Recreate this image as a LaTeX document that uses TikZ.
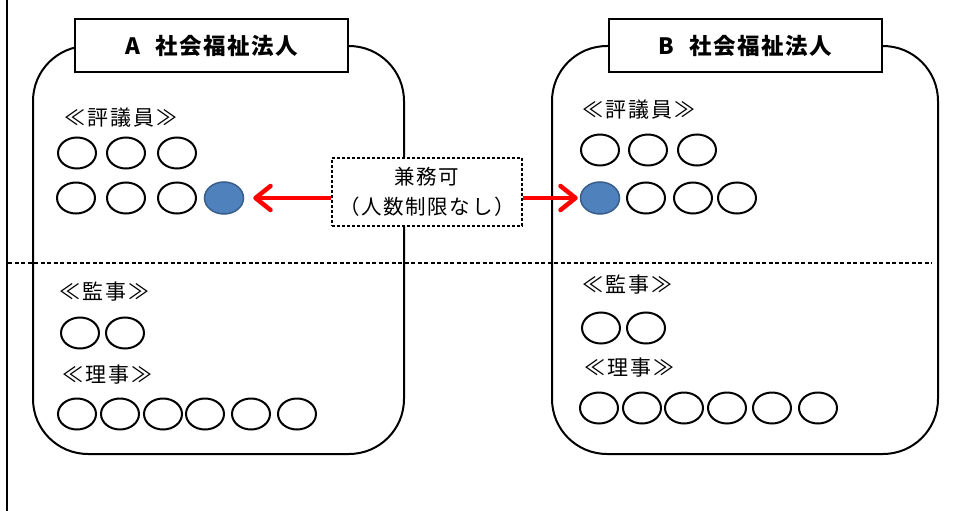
\documentclass[tikz,border=0pt]{standalone}
\usepackage{fontspec}
\setmainfont{Noto Sans CJK JP}
\newfontfamily\jplbl{Noto Sans CJK JP}[LetterSpace=10]
\newfontfamily\jpttl{Noto Sans CJK JP}[LetterSpace=6]
\newfontfamily\jpnote{Noto Sans CJK JP}[LetterSpace=8]
\usetikzlibrary{shapes.geometric,arrows.meta}
\definecolor{blueF}{HTML}{4F81BD}
\definecolor{blueD}{HTML}{385D8A}
\tikzset{
  org/.style={draw=black,line width=2pt,rounded corners=55pt},
  titlebox/.style={draw=black,fill=white,line width=2pt,minimum width=273pt,minimum height=53pt,inner sep=0pt,font=\jpttl\fontsize{22.5}{25}\selectfont\bfseries},
  lbl/.style={anchor=west,inner sep=0pt,font=\jplbl\fontsize{21}{23}\selectfont},
  per/.style={ellipse,draw=black,line width=2pt,minimum width=38pt,minimum height=31pt,inner sep=0pt},
  dual/.style={ellipse,draw=blueD,fill=blueF,line width=1.5pt,minimum width=39pt,minimum height=32pt,inner sep=0pt},
  note/.style={draw=black,dashed,dash pattern=on 3pt off 2pt,line width=1.2pt,fill=white,minimum width=190pt,minimum height=68pt,inner sep=0pt,align=center,font=\jpnote\fontsize{20.5}{30}\selectfont},
  redarrow/.style={draw=red,line width=4.5pt,-{Straight Barb[length=15pt,width=24pt,round]}}
}
\begin{document}
\begin{tikzpicture}[x=1pt,y=-1pt]
\useasboundingbox (0,0) rectangle (956,511);
% left vertical line
\coordinate (vt) at (7,0);
\coordinate (vb) at (7,511);
\draw[line width=2pt] (vt) -- (vb);
% dashed separator
\coordinate (dl) at (8,263);
\coordinate (dr) at (932,263);
% organisations
\draw[org] (33,46) rectangle (404,454);
\draw[org] (552,46) rectangle (938,454);
\draw[line width=1.2pt,dash pattern=on 4pt off 2.5pt] (dl) -- (dr);
\node[titlebox] (ta) at (211.5,45.5) {A\hspace{0.7em}社会福祉法人};
\node[titlebox] (tb) at (745,45.5) {B\hspace{0.7em}社会福祉法人};
% A side
\node[lbl] (ahy) at (64,118) {≪評議員≫};
\node[per] (a11) at (77,153) {};
\node[per] (a12) at (126,153) {};
\node[per] (a13) at (177,153) {};
\node[per] (a21) at (76,198) {};
\node[per] (a22) at (126,198) {};
\node[per] (a23) at (177,198) {};
\node[dual] (a24) at (224,198) {};
\node[lbl] (akj) at (59,292) {≪監事≫};
\node[per] (ak1) at (80,333) {};
\node[per] (ak2) at (125,333) {};
\node[lbl] (arj) at (62,375) {≪理事≫};
\node[per] (ar1) at (77,414) {};
\node[per] (ar2) at (120,414) {};
\node[per] (ar3) at (163,414) {};
\node[per] (ar4) at (205,414) {};
\node[per] (ar5) at (251,414) {};
\node[per] (ar6) at (297,414) {};
% B side
\node[lbl] (bhy) at (582,110) {≪評議員≫};
\node[per] (b11) at (600,150) {};
\node[per] (b12) at (648,150) {};
\node[per] (b13) at (697,150) {};
\node[dual] (b21) at (600,198) {};
\node[per] (b22) at (646,198) {};
\node[per] (b23) at (693,198) {};
\node[per] (b24) at (737,198) {};
\node[lbl] (bkj) at (582,285) {≪監事≫};
\node[per] (bk1) at (601,328) {};
\node[per] (bk2) at (646,328) {};
\node[lbl] (brj) at (584,368) {≪理事≫};
\node[per] (br1) at (599,408) {};
\node[per] (br2) at (642,408) {};
\node[per] (br3) at (684,408) {};
\node[per] (br4) at (727,408) {};
\node[per] (br5) at (772,408) {};
\node[per] (br6) at (818,408) {};
% note and arrows
\node[note] (nt) at (427,192) {兼務可\\（人数制限なし）};
\draw[redarrow] (nt.west |- a24) -- ([xshift=9pt]a24.east);
\draw[redarrow] (nt.east |- b21) -- ([xshift=-2pt]b21.west);
\end{tikzpicture}
\end{document}
